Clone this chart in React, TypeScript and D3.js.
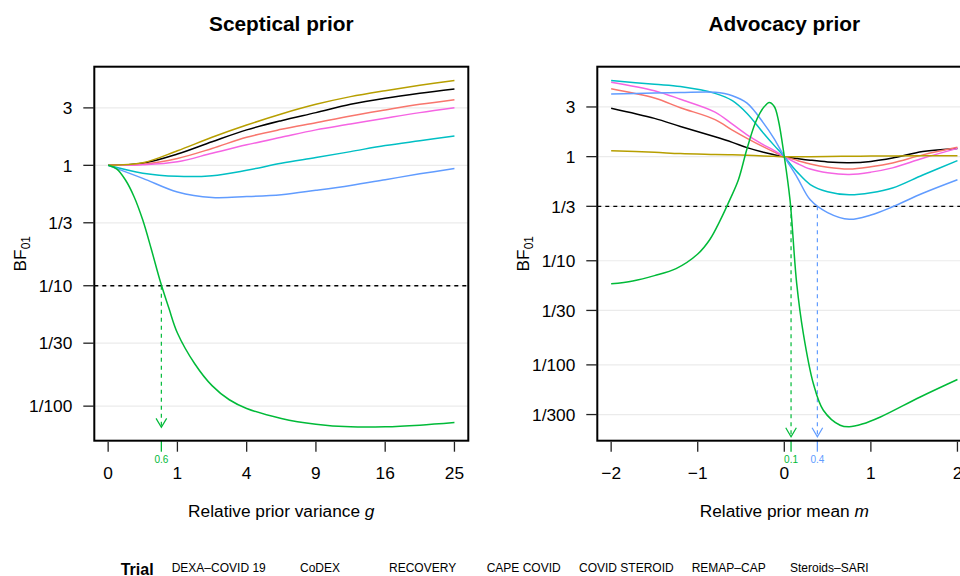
import { useRef, useEffect } from "react";
import * as d3 from "d3";

const trials = [
  "DEXA–COVID 19",
  "CoDEX",
  "RECOVERY",
  "CAPE COVID",
  "COVID STEROID",
  "REMAP–CAP",
  "Steroids–SARI",
];
const trialColors = ["#B79F00", "#00BFC4", "#00BA38", "#F564E3", "#000000", "#619CFF", "#F8766D"];

// Sceptical prior: BF01 against relative prior variance g
const gGrid = [0, 0.25, 1, 2.25, 4, 6.25, 9, 12.25, 16, 20.25, 25];
const gGridRecovery = [
  0, 0.016, 0.0625, 0.14, 0.25, 0.39, 0.5625, 0.77, 1, 1.5625, 2.25, 3.06, 4, 6.25, 9, 12.25, 16,
  20.25, 25,
];
const scepDexa = [1, 1.05, 1.32, 1.71, 2.16, 2.67, 3.21, 3.72, 4.17, 4.62, 5.06];
const scepCodex = [1, 0.86, 0.81, 0.82, 0.91, 1.04, 1.16, 1.3, 1.46, 1.6, 1.75];
const scepRecovery = [
  1, 0.93, 0.755, 0.549, 0.351, 0.2, 0.11, 0.0649, 0.0405, 0.0225, 0.0148, 0.0113, 0.00957, 0.00791,
  0.00708, 0.00673, 0.00673, 0.00695, 0.00731,
];
const scepCape = [1, 1.01, 1.07, 1.26, 1.48, 1.71, 1.97, 2.2, 2.46, 2.74, 3.01];
const scepSteroid = [1, 1.04, 1.24, 1.57, 1.97, 2.35, 2.74, 3.21, 3.61, 3.97, 4.31];
const scepRemap = [1, 0.78, 0.6, 0.54, 0.55, 0.57, 0.62, 0.68, 0.76, 0.85, 0.94];
const scepSari = [1, 1.02, 1.14, 1.38, 1.71, 1.99, 2.26, 2.57, 2.88, 3.21, 3.51];

// Advocacy prior: BF01 against relative prior mean m
const mGrid = [-2, -1.5, -1.2, -0.8, -0.6, -0.43, -0.24, -0.12, 0, 0.15, 0.3, 0.5, 0.75, 1, 1.25, 1.6, 2];
const mGridRecovery = [
  -2, -1.75, -1.5, -1.25, -1, -0.86, -0.745, -0.63, -0.53, -0.435, -0.34, -0.28, -0.235, -0.174,
  -0.116, -0.069, 0, 0.066, 0.143, 0.22, 0.336, 0.451, 0.645, 0.75, 0.9, 1.11, 1.57, 2,
];
const advDexa = [1.14, 1.1, 1.07, 1.05, 1.04, 1.03, 1.015, 1.007, 1, 1, 1, 1.005, 1.01, 1.012, 1.015, 1.02, 1.02];
const advCodex = [5.38, 4.95, 4.71, 4.05, 3.45, 2.6, 1.68, 1.29, 1, 0.71, 0.54, 0.46, 0.43, 0.45, 0.5, 0.667, 0.915];
const advRecovery = [
  0.06, 0.064, 0.072, 0.084, 0.116, 0.16, 0.24, 0.384, 0.6, 1.16, 2.06, 2.63, 2.99, 3.31, 3.03, 2.25, 1,
  0.384, 0.0607, 0.02, 0.0066, 0.00367, 0.00263, 0.00254, 0.0027, 0.00316, 0.00492, 0.00724,
];
const advCape = [5.19, 4.3, 3.56, 2.68, 2.05, 1.62, 1.3, 1.15, 1, 0.86, 0.76, 0.7, 0.675, 0.71, 0.78, 0.965, 1.2];
const advSteroid = [2.92, 2.33, 1.95, 1.55, 1.37, 1.22, 1.1, 1.045, 1, 0.96, 0.925, 0.89, 0.875, 0.9, 0.97, 1.12, 1.2];
const advRemap = [4.0, 4.08, 4.12, 4.15, 3.85, 3.26, 2.1, 1.5, 1, 0.63, 0.385, 0.29, 0.25, 0.275, 0.33, 0.445, 0.6];
const advSari = [4.48, 3.65, 2.95, 2.27, 1.8, 1.5, 1.24, 1.11, 1, 0.92, 0.85, 0.79, 0.76, 0.8, 0.87, 1.04, 1.23];

// axis ticks
const gTicks = [0, 1, 4, 9, 16, 25];
const mTicks = [-2, -1, 0, 1, 2];
const bfTicks = [3, 1, 1 / 3, 1 / 10, 1 / 30, 1 / 100, 1 / 300];
const bfTickLabels = ["3", "1", "1/3", "1/10", "1/30", "1/100", "1/300"];

// thresholds and where curves cross them
const scepThreshold = 1 / 10;
const scepCross = [{ trial: "RECOVERY", x: 0.59, label: "0.6", end: 1 / 150 }];
const advThreshold = 1 / 3;
const advCross = [
  { trial: "RECOVERY", x: 0.078, label: "0.1", end: 1 / 490 },
  { trial: "REMAP–CAP", x: 0.382, label: "0.4", end: 1 / 490 },
];

const legendX = [171.7, 300, 389, 486.7, 579, 691.7, 790];

const FONT = "Liberation Sans, Arial, Helvetica, sans-serif";
const W = 960;
const H = 576;
const boxTop = 66.7;
const boxSize = 374;
const padPx = (boxSize * 0.04) / 1.08;
const drawOrder = ["COVID STEROID", "Steroids–SARI", "CAPE COVID", "CoDEX", "REMAP–CAP", "DEXA–COVID 19", "RECOVERY"];

type Series = { name: string; color: string; xs: number[]; ys: number[] };

const colorOf = (name: string) => trialColors[trials.indexOf(name)];

const logDomain = (vals: number[]) => {
  const [lo, hi] = d3.extent(vals.map(Math.log10)) as [number, number];
  const p = (hi - lo) * 0.04;
  return [Math.pow(10, lo - p), Math.pow(10, hi + p)];
};

const drawPanel = (svg: any, cfg: any) => {
  const { left, title, xScale, series, xTicks, xTickFmt, xLabel, xVar, threshold, cross } = cfg;
  const right = left + boxSize;
  const bottom = boxTop + boxSize;
  const allY: number[] = series.flatMap((s: Series) => s.ys);
  const yScale = d3.scaleLog().domain(logDomain(allY)).range([bottom, boxTop]);
  const [ylo, yhi] = yScale.domain();
  const ticks = bfTicks.map((v, i) => ({ v, label: bfTickLabels[i] })).filter((t) => t.v >= ylo && t.v <= yhi);

  const g = svg.append("g");

  // gridlines
  g.append("g")
    .selectAll("line")
    .data(ticks)
    .join("line")
    .attr("x1", left)
    .attr("x2", right)
    .attr("y1", (d: any) => yScale(d.v))
    .attr("y2", (d: any) => yScale(d.v))
    .attr("stroke", "#EBEBEB")
    .attr("stroke-width", 1.2);

  // threshold line
  g.append("line")
    .attr("x1", left)
    .attr("x2", right)
    .attr("y1", yScale(threshold))
    .attr("y2", yScale(threshold))
    .attr("stroke", "#000")
    .attr("stroke-width", 1.3)
    .attr("stroke-dasharray", "4,4");

  // crossing arrows
  cross.forEach((c: any) => {
    const col = colorOf(c.trial);
    const x = xScale(c.x);
    const tip = yScale(c.end);
    g.append("line")
      .attr("x1", x)
      .attr("x2", x)
      .attr("y1", yScale(threshold))
      .attr("y2", tip)
      .attr("stroke", col)
      .attr("stroke-width", 1.2)
      .attr("stroke-dasharray", "4,4");
    g.append("path")
      .attr("d", `M${x - 5.3},${tip - 9}L${x},${tip}L${x + 5.3},${tip - 9}`)
      .attr("fill", "none")
      .attr("stroke", col)
      .attr("stroke-width", 1.2);
    g.append("line")
      .attr("x1", x)
      .attr("x2", x)
      .attr("y1", bottom)
      .attr("y2", bottom + 11)
      .attr("stroke", col)
      .attr("stroke-width", 1.3);
    g.append("text")
      .attr("x", x)
      .attr("y", bottom + 22.5)
      .attr("text-anchor", "middle")
      .attr("font-size", 10)
      .attr("fill", col)
      .text(c.label);
  });

  // curves
  const line = d3
    .line<[number, number]>()
    .x((d) => xScale(d[0]))
    .y((d) => yScale(d[1]))
    .curve(d3.curveCatmullRom.alpha(0.5));
  const ordered = drawOrder.map((n) => series.find((s: Series) => s.name === n));
  g.append("g")
    .attr("fill", "none")
    .attr("stroke-width", 1.5)
    .selectAll("path")
    .data(ordered)
    .join("path")
    .attr("stroke", (d: Series) => d.color)
    .attr("d", (d: Series) => line(d.xs.map((x, i) => [x, d.ys[i]] as [number, number])));

  // box
  g.append("rect")
    .attr("x", left)
    .attr("y", boxTop)
    .attr("width", boxSize)
    .attr("height", boxSize)
    .attr("fill", "none")
    .attr("stroke", "#000")
    .attr("stroke-width", 2);

  // y axis
  const ya = g.append("g").attr("font-size", 17.3);
  ya.selectAll("line")
    .data(ticks)
    .join("line")
    .attr("x1", left - 11)
    .attr("x2", left)
    .attr("y1", (d: any) => yScale(d.v))
    .attr("y2", (d: any) => yScale(d.v))
    .attr("stroke", "#222")
    .attr("stroke-width", 1.3);
  ya.selectAll("text")
    .data(ticks)
    .join("text")
    .attr("x", left - 22)
    .attr("y", (d: any) => yScale(d.v))
    .attr("dy", "0.36em")
    .attr("text-anchor", "end")
    .text((d: any) => d.label);

  // x axis
  const xa = g.append("g").attr("font-size", 17.3);
  xa.selectAll("line")
    .data(xTicks)
    .join("line")
    .attr("x1", (d: number) => xScale(d))
    .attr("x2", (d: number) => xScale(d))
    .attr("y1", bottom + 1)
    .attr("y2", bottom + 11)
    .attr("stroke", "#222")
    .attr("stroke-width", 1.3);
  xa.selectAll("text")
    .data(xTicks)
    .join("text")
    .attr("x", (d: number) => xScale(d))
    .attr("y", bottom + 38.5)
    .attr("text-anchor", "middle")
    .text((d: number) => xTickFmt(d));

  // titles
  const cx = left + boxSize / 2;
  g.append("text")
    .attr("x", cx)
    .attr("y", 31)
    .attr("text-anchor", "middle")
    .attr("font-size", 20.8)
    .attr("font-weight", "bold")
    .text(title);

  const xl = g.append("text").attr("x", cx).attr("y", bottom + 76.5).attr("text-anchor", "middle").attr("font-size", 17.3);
  xl.append("tspan").text(xLabel + " ");
  xl.append("tspan").attr("font-style", "italic").text(xVar);

  const yl = g
    .append("text")
    .attr("transform", `translate(${left - 68},${boxTop + boxSize / 2}) rotate(-90)`)
    .attr("text-anchor", "middle")
    .attr("font-size", 17.3);
  yl.append("tspan").text("BF");
  yl.append("tspan").attr("font-size", 12).attr("dy", 4).text("01");
};

const App = () => {
  const svgRef = useRef(null);

  useEffect(() => {
    if (!svgRef.current) return;
    const svg = d3.select(svgRef.current);
    svg.selectAll("*").remove();
    svg.attr("font-family", FONT);

    const scepVals = [scepDexa, scepCodex, scepRecovery, scepCape, scepSteroid, scepRemap, scepSari];
    const advVals = [advDexa, advCodex, advRecovery, advCape, advSteroid, advRemap, advSari];

    const scepSeries: Series[] = trials.map((t, i) => ({
      name: t,
      color: trialColors[i],
      xs: t === "RECOVERY" ? gGridRecovery : gGrid,
      ys: scepVals[i],
    }));
    const advSeries: Series[] = trials.map((t, i) => ({
      name: t,
      color: trialColors[i],
      xs: t === "RECOVERY" ? mGridRecovery : mGrid,
      ys: advVals[i],
    }));

    const left1 = 94.3;
    const left2 = 597.3;

    drawPanel(svg, {
      left: left1,
      title: "Sceptical prior",
      xScale: d3
        .scaleSqrt()
        .domain([0, 25])
        .range([left1 + padPx, left1 + boxSize - padPx]),
      series: scepSeries,
      xTicks: gTicks,
      xTickFmt: (d: number) => String(d),
      xLabel: "Relative prior variance",
      xVar: "g",
      threshold: scepThreshold,
      cross: scepCross,
    });

    drawPanel(svg, {
      left: left2,
      title: "Advocacy prior",
      xScale: d3
        .scaleLinear()
        .domain([-2, 2])
        .range([left2 + padPx, left2 + boxSize - padPx]),
      series: advSeries,
      xTicks: mTicks,
      xTickFmt: (d: number) => (d < 0 ? "−" + Math.abs(d) : String(d)),
      xLabel: "Relative prior mean",
      xVar: "m",
      threshold: advThreshold,
      cross: advCross,
    });

    // legend
    const lg = svg.append("g");
    lg.append("text").attr("x", 120.7).attr("y", 575).attr("font-size", 16).attr("font-weight", "bold").text("Trial");
    lg.selectAll("text.lab")
      .data(trials)
      .join("text")
      .attr("class", "lab")
      .attr("x", (_: any, i: number) => legendX[i])
      .attr("y", 571.7)
      .attr("font-size", 12)
      .text((d: string) => d);
  }, []);

  return (
    <svg
      ref={svgRef}
      width={W}
      height={H}
      style={{ position: "absolute", left: 0, top: 0, background: "#fff" }}
    />
  );
};

export default App;
